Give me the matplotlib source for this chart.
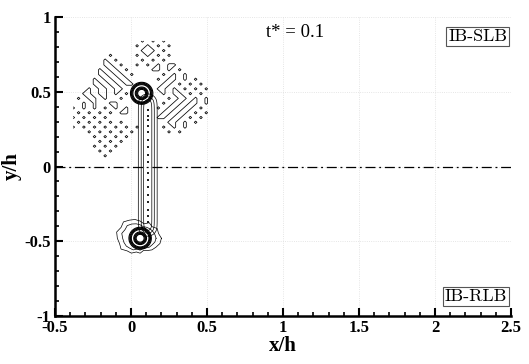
import matplotlib
matplotlib.use("Agg")
import matplotlib.pyplot as plt
import numpy as np

# Axis ticks
x_ticks = [-0.5, 0, 0.5, 1, 1.5, 2, 2.5]
x_tick_labels = ["-0.5", "0", "0.5", "1", "1.5", "2", "2.5"]
y_ticks = [-1, -0.5, 0, 0.5, 1]
y_tick_labels = ["-1", "-0.5", "0", "0.5", "1"]

# Vortex cores (x/h, y/h), ring radius and ring thickness
vortex_x = [0.07, 0.06]
vortex_y = [0.49, -0.48]
vortex_radius = [0.05, 0.05]
vortex_width = [0.02, 0.02]

# Shear layer joining the two cores
layer_x = 0.11
layer_y_range = [-0.44, 0.46]
layer_half_width = 0.045
layer_dot_y = [0.38, 0.34, 0.31, 0.27, 0.23, 0.18, 0.13, 0.08, 0.03,
               -0.04, -0.09, -0.14, -0.19, -0.24, -0.29, -0.33, -0.37]

# Wavy outline around the lower core: radius every 15 degrees
lower_outline_outer = [0.14, 0.125, 0.13, 0.11, 0.12, 0.10, 0.115, 0.13,
                       0.14, 0.155, 0.145, 0.16, 0.15, 0.14, 0.145, 0.12,
                       0.115, 0.095, 0.10, 0.085, 0.095, 0.11, 0.12, 0.135]
lower_outline_inner = [0.105, 0.10, 0.095, 0.09, 0.085, 0.08, 0.09, 0.10,
                       0.11, 0.12, 0.115, 0.125, 0.115, 0.11, 0.105, 0.095,
                       0.09, 0.075, 0.08, 0.07, 0.075, 0.085, 0.09, 0.10]

# Numerical noise around the upper core ('+' = spurious vorticity)
noise_x_range = [-0.38, 0.53]
noise_y_range = [0.84, 0.04]
noise_rows = [
    ".............+.+.+.........",
    "............+.+.+.+........",
    ".............+++.+.........",
    ".......+....+.+.+.+........",
    "......+.+....+.+.+.........",
    "......++.+..+.+.+.++.......",
    ".....+.++.+....++.+.+......",
    ".....++.++.+.....+.+.+.....",
    "....+.++.++.....+.++.+.+...",
    "....++.++.++.....++.+.+.+..",
    "...+.++.++......++.+.+.+.+.",
    "..++.++.+.+......+.++.+.+..",
    ".+.++.+..+........+.++.+.+.",
    "..+.+..++........+.++.++.+.",
    "+.+.+.+.+.+.....+.++.++.+..",
    ".+.+.+.+.++......++.++.+.+.",
    "+.+.+.+.........++.++.+.+..",
    ".+.+.+.+.+........++.+.+...",
    "+.+.+.+.+.+.+....+.+.+.....",
    "...+.+.+.+.+......+.+......",
    "....+.+.+.+................",
    ".....+.+.+.................",
    "....+.+.+..................",
    ".....+.+...................",
    "......+....................",
    "...........................",
]


def main():
    plt.rcParams["font.family"] = "Liberation Serif"
    fig = plt.figure(figsize=(5.29, 3.64), dpi=100)
    ax = fig.add_axes([0.104, 0.132, 0.862, 0.821])

    # Smooth vorticity: two rings plus the shear layer
    gx = np.linspace(-0.3, 0.45, 400)
    gy = np.linspace(-0.7, 0.75, 700)
    X, Y = np.meshgrid(gx, gy)
    for xc, yc, r0, w in zip(vortex_x, vortex_y, vortex_radius, vortex_width):
        rho = np.hypot(X - xc, Y - yc)
        ring = np.exp(-((rho - r0) / w) ** 2)
        ax.contour(X, Y, ring, levels=[0.25, 0.45, 0.65, 0.85],
                   colors="black", linewidths=0.8)

    lo, hi = layer_y_range
    window = 0.5 * (np.tanh((Y - lo) / 0.03) - np.tanh((Y - hi) / 0.03))
    layer = np.exp(-((X - layer_x) / layer_half_width) ** 2) * window
    ax.contour(X, Y, layer, levels=[0.15, 0.4, 0.7],
               colors="black", linewidths=0.5)
    ax.scatter([layer_x] * len(layer_dot_y), layer_dot_y, s=4, marker="s",
               color="#222222", linewidths=0)

    # Wavy outlines of the lower core
    ang = np.deg2rad(np.arange(0, 360, 15))
    for radii in (lower_outline_outer, lower_outline_inner):
        r = np.array(radii + radii[:1])
        a = np.append(ang, ang[0])
        ax.plot(vortex_x[1] + r * np.cos(a), vortex_y[1] + r * np.sin(a),
                color="black", lw=0.5)

    # Noise field on its own coarse grid
    noise = np.array([[1.0 if c == "+" else 0.0 for c in row]
                      for row in noise_rows])
    nx = np.linspace(noise_x_range[0], noise_x_range[1], noise.shape[1])
    ny = np.linspace(noise_y_range[0], noise_y_range[1], noise.shape[0])
    ax.contour(nx, ny, noise, levels=[0.75], colors="black",
               linewidths=0.55)

    # Symmetry line
    ax.axhline(0, color="black", lw=0.9, ls=(0, (8, 3, 1.5, 3)))

    ax.set_xlim(-0.5, 2.5)
    ax.set_ylim(-1, 1)
    ax.set_xticks(x_ticks)
    ax.set_xticklabels(x_tick_labels)
    ax.set_yticks(y_ticks)
    ax.set_yticklabels(y_tick_labels)
    ax.set_xticks(np.arange(-0.5, 2.51, 0.1), minor=True)
    ax.set_yticks(np.arange(-1, 1.01, 0.1), minor=True)
    ax.tick_params(which="major", direction="in", length=6, width=1.5,
                   labelsize=12, pad=3)
    ax.tick_params(which="minor", direction="in", length=3, width=1.2)
    for lab in ax.get_xticklabels() + ax.get_yticklabels():
        lab.set_fontweight("bold")
    for side in ("top", "right"):
        ax.spines[side].set_visible(False)
    for side in ("left", "bottom"):
        ax.spines[side].set_linewidth(1.8)
    ax.grid(True, which="major", color="#dddddd", lw=0.6, ls=":")

    ax.set_xlabel("x/h", fontsize=15, fontweight="bold", labelpad=0)
    ax.set_ylabel("y/h", fontsize=15, fontweight="bold", labelpad=2)

    ax.text(1.08, 0.9, "t* = 0.1", fontsize=13.5, ha="center", va="center")
    box = dict(boxstyle="square,pad=0.12", fc="white", ec="#555555", lw=0.8)
    ax.text(2.475, 0.87, "IB-SLB", fontsize=13, ha="right", va="center",
            family="cmr10", bbox=box)
    ax.text(2.475, -0.87, "IB-RLB", fontsize=13, ha="right", va="center",
            family="cmr10", bbox=box)

    fig.savefig("out.png", dpi=100)


if __name__ == "__main__":
    main()
